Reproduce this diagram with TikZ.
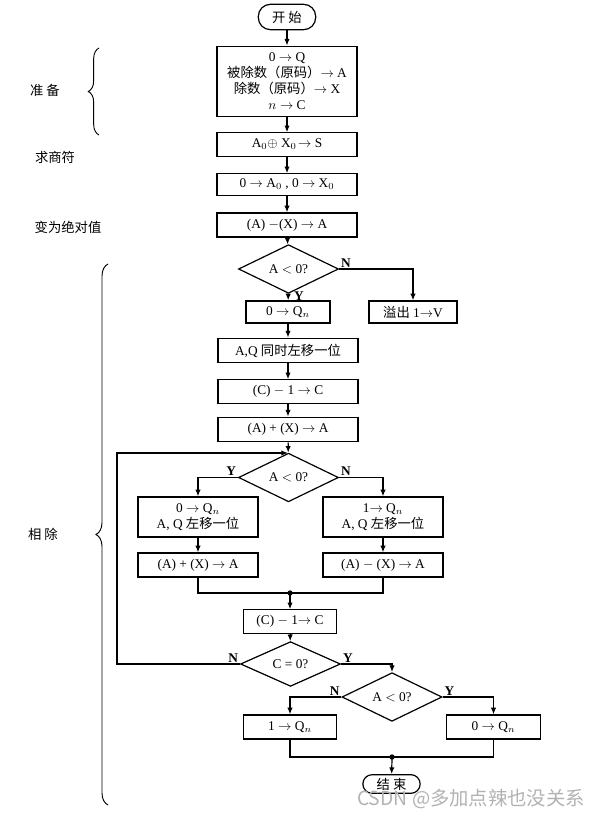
\documentclass[tikz,border=0pt]{standalone}
\usepackage{fontspec}
\setmainfont{Liberation Serif}
\newfontfamily\cjk{Noto Sans CJK SC}
\usetikzlibrary{arrows.meta,shapes.geometric,decorations.pathreplacing,calc}

\begin{document}
\begin{tikzpicture}[x=0.75pt,y=-0.75pt,
    proc/.style={draw,line width=0.9pt,minimum width=105pt,minimum height=17.5pt,inner sep=1pt,align=center},
    term/.style={draw,line width=0.9pt,rounded corners=9pt,minimum width=43pt,minimum height=19pt,inner sep=1pt},
    decision/.style={diamond,draw,line width=0.9pt,minimum width=75pt,minimum height=21pt,inner sep=0pt},
    flow/.style={line width=0.9pt,-{Latex[length=5pt,width=4pt]}},
    plain/.style={line width=0.9pt},
    yn/.style={font=\bfseries,inner sep=1pt},
    side/.style={font=\cjk},
    curly/.style={decorate,decoration={brace,amplitude=#1},line width=0.7pt}]
    \useasboundingbox (0,0) rectangle (599,816);

    % Start and preparation
    \node[term] (start) at (287,17) {{\cjk 开\ 始}};
    \node[proc,minimum height=53pt] (prep) at (287,81.5) {0 $\rightarrow$ Q\\{\cjk 被除数（原码）}$\rightarrow$ A\\{\cjk 除数（原码）}$\rightarrow$ X\\$n\rightarrow$ C};
    \node[proc] (sign) at (287,144.5) {A$_0\oplus$ X$_0\!\rightarrow$ S};
    \node[proc,minimum height=16pt] (clear) at (287,184.5) {0 $\rightarrow$ A$_0$ , 0 $\rightarrow$ X$_0$};
    \node[proc,minimum height=18pt] (abs) at (287,225) {(A) $-$(X) $\rightarrow$ A};

    % First test
    \node[decision] (dec1) at (288.5,269) {A $<$ 0?};
    \node[proc,minimum width=63pt,minimum height=16.5pt] (q0) at (288,312) {0 $\rightarrow$ Q$_n$};
    \node[proc,minimum width=66pt,minimum height=16.5pt] (ovf) at (413,312) {{\cjk 溢出} 1$\rightarrow$V};
    \node[proc,minimum height=18.5pt] (shift) at (288,350.5) {A,Q {\cjk 同时左移一位}};
    \node[proc] (cdec1) at (288,391.5) {(C) $-$ 1 $\rightarrow$ C};
    \node[proc,minimum height=18.5pt] (add1) at (288,429.5) {(A) + (X) $\rightarrow$ A};

    % Loop body
    \node[decision] (dec2) at (288.5,477.5) {A $<$ 0?};
    \node[proc,minimum width=90pt,minimum height=30pt] (lq) at (198,517) {0 $\rightarrow$ Q$_n$\\A, Q {\cjk 左移一位}};
    \node[proc,minimum width=90pt,minimum height=30pt] (rq) at (383,517) {1$\rightarrow$ Q$_n$\\A, Q {\cjk 左移一位}};
    \node[proc,minimum width=90pt,minimum height=18pt] (ladd) at (198,565) {(A) + (X) $\rightarrow$ A};
    \node[proc,minimum width=90pt,minimum height=18pt] (rsub) at (383,565) {(A) $-$ (X) $\rightarrow$ A};
    \coordinate (m1) at (290,593);
    \node[proc,minimum width=70pt] (cdec2) at (290,621.5) {(C) $-$ 1$\rightarrow$ C};
    \node[decision] (dec3) at (290.5,664) {C = 0?};

    % Last quotient bit
    \node[decision] (dec4) at (392,697) {A $<$ 0?};
    \node[proc,minimum width=70pt,minimum height=18pt] (lq2) at (290,727) {1 $\rightarrow$ Q$_n$};
    \node[proc,minimum width=70pt,minimum height=18pt] (rq2) at (493.5,727) {0 $\rightarrow$ Q$_n$};
    \coordinate (m2) at (392,757);
    \node[term,rounded corners=7pt,minimum height=14pt] (stop) at (391.5,784) {{\cjk 结\ 束}};

    % Loop-back path
    \coordinate (loopbot) at (117,664);
    \coordinate (looptop) at (117,453);
    \coordinate (join) at (288,453);

    % Connectors
    \draw[flow] (start) -- (prep);
    \draw[flow] (prep) -- (sign);
    \draw[flow] (sign) -- (clear);
    \draw[flow] (clear) -- (abs);
    \draw[flow] (abs) -- (dec1);
    \draw[flow] (dec1) -- node[yn,right=3pt,pos=0.35]{Y} (q0);
    \draw[flow] (dec1.east) node[yn,above right]{N} -| (ovf.north);
    \draw[flow] (q0) -- (shift);
    \draw[flow] (shift) -- (cdec1);
    \draw[flow] (cdec1) -- (add1);
    \draw[flow] (add1) -- (dec2);
    \draw[flow] (dec2.west) node[yn,above left]{Y} -| (lq.north);
    \draw[flow] (dec2.east) node[yn,above right]{N} -| (rq.north);
    \draw[flow] (lq) -- (ladd);
    \draw[flow] (rq) -- (rsub);
    \draw[plain] (ladd.south) |- (m1) -| (rsub.south);
    \fill (m1) circle (2pt);
    \draw[flow] (m1) -- (cdec2);
    \draw[flow] (cdec2) -- (dec3);
    \draw[flow] (dec3.west) node[yn,above left]{N} -- (loopbot) -- (looptop) -- (join);
    \draw[flow] (dec3.east) node[yn,above right]{Y} -| (dec4.north);
    \draw[flow] (dec4.west) node[yn,above left]{N} -| (lq2.north);
    \draw[flow] (dec4.east) node[yn,above right]{Y} -| (rq2.north);
    \draw[plain] (lq2.south) |- (m2) -| (rq2.south);
    \fill (m2) circle (2pt);
    \draw[flow] (m2) -- (stop);

    % Stage labels and braces
    \node[side] (prepl) at (45,90) {准\ 备};
    \draw[curly=8pt] (99,135) -- (99,48);
    \node[side] (signl) at (55,157) {求商符};
    \node[side] (absl) at (68,227) {变为绝对值};
    \node[side] (divl) at (43,534) {相\ 除};
    \draw[curly=9pt] (108,805) -- (108,264);

    % Watermark
    \node[font=\cjk\fontsize{14.5}{16}\selectfont,text=gray!60] (mark) at (471,799) {CSDN @多加点辣也没关系};
\end{tikzpicture}
\end{document}
